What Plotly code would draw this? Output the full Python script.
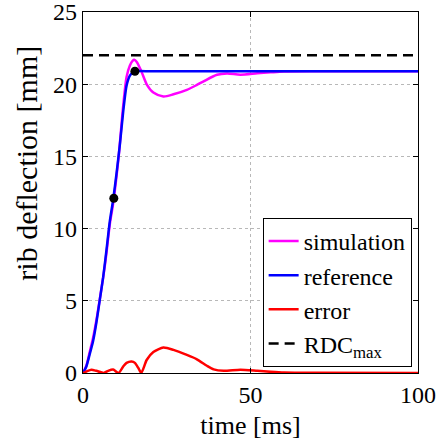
import plotly.graph_objects as go

# reference curve
ref_t = [0, 1, 2, 3, 4, 5, 6, 7, 8, 9, 10, 11, 12, 13, 14, 15, 16, 20, 40, 60, 100]
ref_y = [0, 0.45, 1.3, 2.2, 3.5, 5.05, 6.6, 8.5, 10.5, 12.0, 13.8, 15.8, 18.1, 19.9, 20.6, 20.85, 20.9, 20.9, 20.9, 20.9, 20.9]

# simulation curve
sim_t = [0, 1, 2, 3, 4, 5, 6.2, 7, 8, 9, 10.6, 12, 13, 14, 14.8, 15.3, 16, 17.4, 19.1, 21, 24, 27, 31, 34, 36, 40, 43, 47, 52, 56, 60, 70, 100]
sim_y = [0, 0.5, 1.45, 2.42, 3.65, 5.1, 6.9, 8.3, 10.3, 11.75, 14.9, 18.5, 20.5, 21.3, 21.62, 21.69, 21.55, 20.9, 19.96, 19.42, 19.15, 19.3, 19.61, 19.95, 20.2, 20.65, 20.74, 20.66, 20.75, 20.82, 20.88, 20.9, 20.9]

# error curve
err_t = [0, 1, 2.5, 4, 6.2, 7.5, 9, 10.6, 12, 13, 14.5, 15.5, 16.5, 17.4, 19, 21, 24, 27, 31, 34, 37, 39, 42, 47, 52, 56, 60, 70, 100]
err_y = [0, 0.1, 0.23, 0.15, 0.0, 0.15, 0.24, 0.0, 0.45, 0.7, 0.8, 0.7, 0.35, 0.0, 0.9, 1.45, 1.76, 1.6, 1.25, 0.95, 0.5, 0.25, 0.15, 0.23, 0.15, 0.08, 0.03, 0.01, 0.0]

# RDC max
rdc_t = [0, 100]
rdc_y = [22, 22]

# marked points
dot_t = [9.2, 15.5]
dot_y = [12.1, 20.9]

font = "Liberation Serif"

fig = go.Figure()
fig.add_trace(go.Scatter(x=sim_t, y=sim_y, mode="lines", name="simulation",
                         line=dict(color="#ff00ff", width=2.5, shape="spline", smoothing=0.8)))
fig.add_trace(go.Scatter(x=ref_t, y=ref_y, mode="lines", name="reference",
                         line=dict(color="#0000ff", width=2.5, shape="spline", smoothing=0.6)))
fig.add_trace(go.Scatter(x=err_t, y=err_y, mode="lines", name="error",
                         line=dict(color="#ff0000", width=2.5, shape="spline", smoothing=0.6)))
fig.add_trace(go.Scatter(x=rdc_t, y=rdc_y, mode="lines", name="RDC<sub>max</sub>",
                         line=dict(color="black", width=2.5, dash="10px,6px")))
fig.add_trace(go.Scatter(x=dot_t, y=dot_y, mode="markers", showlegend=False,
                         marker=dict(color="black", size=9)))

axis_common = dict(
    showline=True, linecolor="black", linewidth=1.2, mirror="ticks",
    ticks="inside", ticklen=5, tickcolor="black", tickwidth=1,
    showgrid=True, gridcolor="#b8b8b8", griddash="dot", gridwidth=1,
    zeroline=False, automargin=False, ticklabeloverflow="allow",
    tickfont=dict(family=font, size=24, color="black"),
)

fig.update_xaxes(range=[0, 100], tickvals=[0, 50, 100],
                 title=dict(text="time [ms]", font=dict(family=font, size=26, color="black"), standoff=8),
                 **axis_common)
fig.update_yaxes(range=[0, 25], tickvals=[0, 5, 10, 15, 20, 25], **axis_common)

fig.add_annotation(text="rib deflection [mm]", textangle=-90, showarrow=False,
                   xref="paper", yref="paper", x=-0.167, y=0.58,
                   xanchor="center", yanchor="middle",
                   font=dict(family=font, size=30, color="black"))

fig.update_layout(
    width=442, height=443,
    margin=dict(l=83, r=24, t=12, b=70),
    paper_bgcolor="white", plot_bgcolor="white",
    font=dict(family=font, color="black"),
    legend=dict(x=0.981, y=0.017, xanchor="right", yanchor="bottom",
                bgcolor="white", bordercolor="black", borderwidth=1,
                font=dict(family=font, size=24, color="black"),
                tracegroupgap=0, itemwidth=30),
)

post = (
    "document.body.style.margin='0';document.body.style.overflow='hidden';"
    "var st=document.createElement('style');"
    "st.textContent='.main-svg text{font-family:\"Liberation Serif\",\"Times New Roman\",Times,\"DejaVu Serif\",serif !important;}';"
    "document.head.appendChild(st);"
)

fig.write_html("out.html", config={"displayModeBar": False, "staticPlot": True},
               post_script=post)
